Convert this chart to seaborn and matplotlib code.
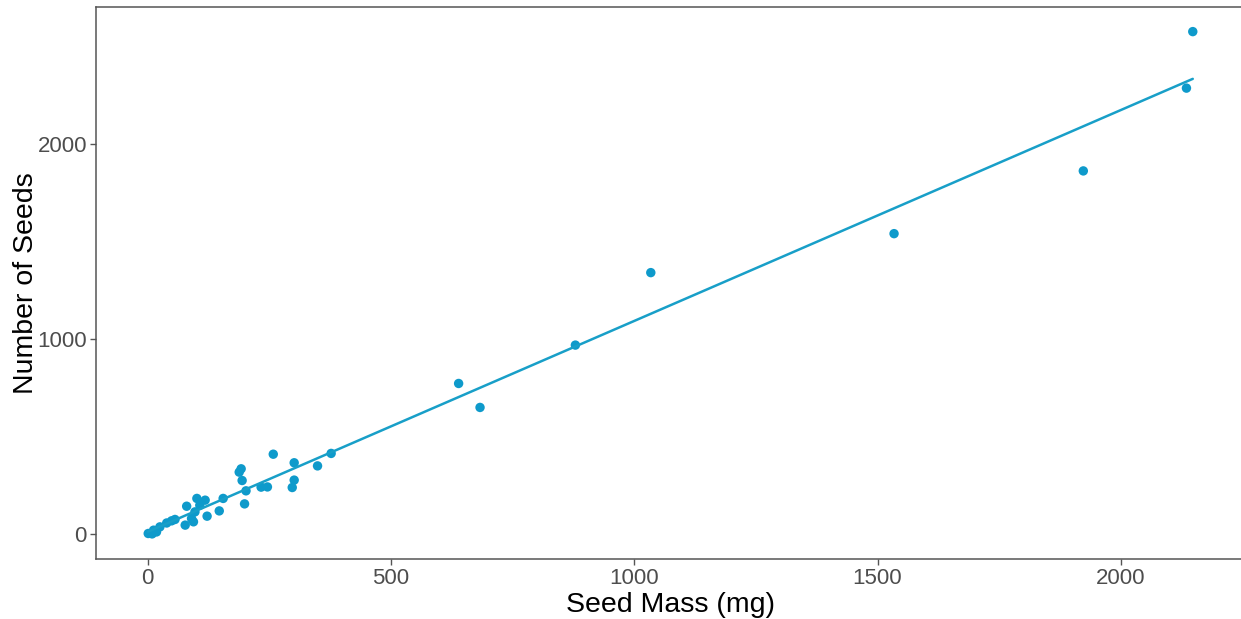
import matplotlib
matplotlib.use("Agg")
import matplotlib.pyplot as plt
import seaborn as sns
import pandas as pd

seed_mass = [1, 9, 12, 18, 25, 39, 49, 56, 77, 80, 90, 94, 97, 101, 107, 118, 122,
             147, 155, 188, 192, 194, 199, 202, 233, 246, 258, 297, 301, 301, 349, 377,
             639, 683, 879, 1034, 1534, 1923, 2135, 2148]
num_seeds = [2, 0, 19, 10, 36, 56, 67, 74, 45, 142, 79, 62, 113, 182, 147, 173, 91,
             118, 182, 317, 334, 274, 154, 221, 240, 241, 409, 238, 276, 365, 349, 413,
             772, 649, 969, 1341, 1541, 1863, 2288, 2578]

df = pd.DataFrame({"Seed Mass (mg)": seed_mass, "Number of Seeds": num_seeds})

sns.set_theme(style="white")
plt.rcParams["font.family"] = ["Liberation Sans", "DejaVu Sans"]

W, H = 1241, 619
fig = plt.figure(figsize=(W / 100, H / 100), dpi=100)
left, right, top, bottom = 96, 1245, 6.5, 559
ax = fig.add_axes([left / W, (H - bottom) / H, (right - left) / W, (bottom - top) / H])

color = "#0e9acb"
sns.regplot(data=df, x="Seed Mass (mg)", y="Number of Seeds", ax=ax, ci=None,
            scatter_kws=dict(s=46, color=color, edgecolor="none", alpha=1),
            line_kws=dict(color="#189fc8", lw=1.8))

xr = max(seed_mass) - min(seed_mass)
yr = max(num_seeds) - min(num_seeds)
ax.set_xlim(min(seed_mass) - 0.05 * xr, max(seed_mass) + 0.05 * xr)
ax.set_ylim(min(num_seeds) - 0.05 * yr, max(num_seeds) + 0.05 * yr)
ax.set_xticks([0, 500, 1000, 1500, 2000])
ax.set_yticks([0, 1000, 2000])

for s in ax.spines.values():
    s.set_color("#555555")
    s.set_linewidth(1.1)
ax.tick_params(axis="both", which="both", length=4, width=1, color="#555555",
               labelsize=16, labelcolor="#4d4d4d", pad=2.5, bottom=True, left=True)
ax.set_xlabel("Seed Mass (mg)", fontsize=20.5, color="black", labelpad=2)
ax.set_ylabel("Number of Seeds", fontsize=20.5, color="black", labelpad=-1)

fig.savefig("out.png", dpi=100)
